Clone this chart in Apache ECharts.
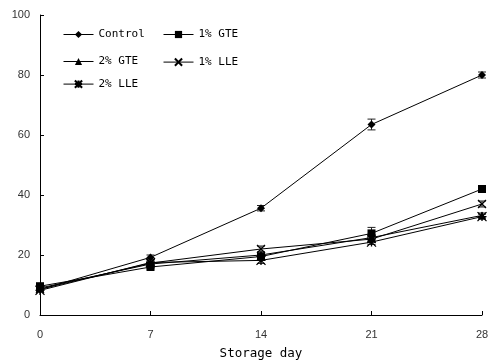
<!DOCTYPE html>
<html><head><meta charset="utf-8">
<script src="https://cdn.jsdelivr.net/npm/echarts@6/dist/echarts.min.js"></script>
<style>html,body{margin:0;padding:0;background:#fff}#c{width:491px;height:361px}</style>
</head><body><div id="c"></div>
<script>
var days = [0, 7, 14, 21, 28];
var seriesNames = ['Control', '1% GTE', '2% GTE', '1% LLE', '2% LLE'];
var control = [8.5, 19.2, 35.6, 63.5, 80.0];
var gte1 = [9.6, 16.0, 19.5, 27.2, 42.0];
var gte2 = [9.0, 17.0, 20.0, 25.8, 33.2];
var lle1 = [8.6, 17.3, 22.0, 25.3, 37.0];
var lle2 = [8.2, 17.5, 18.2, 24.3, 32.8];
var controlErr = [0.5, 0.8, 0.9, 1.8, 1.0];
var gte1Err = [0.6, 0.6, 1.0, 2.0, 0.8];
var gte2Err = [0.5, 0.5, 1.0, 1.0, 0.8];
var lle1Err = [0.5, 0.5, 1.0, 0.8, 1.0];
var lle2Err = [0.5, 0.5, 1.0, 0.8, 0.8];
var yTicks = [0, 20, 40, 60, 80, 100];

var values = [control, gte1, gte2, lle1, lle2];
var errs = [controlErr, gte1Err, gte2Err, lle1Err, lle2Err];
var symbols = ['diamond', 'rect', 'triangle',
  'path://M0,0L10,10M10,0L0,10',
  'path://M0,0L10,10M10,0L0,10M5,0L5,10M0,5L10,5'];
var sizes = [8, 8, 8, 8, 9];

var series = [];
var errData = [];
values.forEach(function (vals, i) {
  series.push({
    name: seriesNames[i], type: 'line',
    data: days.map(function (d, j) { return [d, vals[j]]; }),
    symbol: symbols[i], symbolSize: sizes[i], showAllSymbol: true,
    lineStyle: { color: '#000', width: 1 },
    itemStyle: { color: i >= 3 ? 'none' : '#000', borderColor: '#000', borderWidth: i >= 3 ? 1.3 : 0 },
    emphasis: { disabled: true }, animation: false, z: 3
  });
  days.forEach(function (d, j) { errData.push([d, vals[j], errs[i][j]]); });
});
series.push({
  type: 'custom', animation: false, z: 2,
  renderItem: function (params, api) {
    var x = api.value(0), v = api.value(1), e = api.value(2);
    var p1 = api.coord([x, v + e]), p2 = api.coord([x, v - e]);
    var w = 4, st = { stroke: '#222', lineWidth: 1 };
    return { type: 'group', children: [
      { type: 'line', shape: { x1: p1[0], y1: p1[1], x2: p2[0], y2: p2[1] }, style: st },
      { type: 'line', shape: { x1: p1[0] - w, y1: p1[1], x2: p1[0] + w, y2: p1[1] }, style: st },
      { type: 'line', shape: { x1: p2[0] - w, y1: p2[1], x2: p2[0] + w, y2: p2[1] }, style: st }
    ] };
  },
  encode: { x: 0, y: 1 },
  data: errData
});

var legPos = [[63, 29], [163, 29], [63, 56], [163, 56], [63, 78]];
var legends = seriesNames.map(function (n, i) {
  return {
    data: [n], left: legPos[i][0], top: legPos[i][1], orient: 'horizontal', padding: 0,
    itemWidth: 30, itemHeight: 9, itemGap: 0, selectedMode: false,
    lineStyle: { width: 1, color: '#000' },
    textStyle: { fontFamily: 'DejaVu Sans Mono', fontSize: 11, color: '#000' }
  };
});

var chart = echarts.init(document.getElementById('c'), null, { renderer: 'canvas' });
chart.setOption({
  backgroundColor: '#fff',
  animation: false,
  legend: legends,
  grid: { left: 40, right: 9, top: 15, bottom: 46, containLabel: false, outerBoundsMode: 'none' },
  xAxis: {
    type: 'value', min: 0, max: 28, interval: 7,
    name: 'Storage day', nameLocation: 'middle', nameGap: 32,
    nameTextStyle: { fontFamily: 'DejaVu Sans Mono', fontSize: 12.5, color: '#000' },
    axisLine: { lineStyle: { color: '#000', width: 1 } },
    axisTick: { inside: true, length: 4, lineStyle: { color: '#000' } },
    axisLabel: { fontFamily: 'Liberation Sans', fontSize: 11, color: '#333', margin: 14 },
    splitLine: { show: false }
  },
  yAxis: {
    type: 'value', min: yTicks[0], max: yTicks[yTicks.length - 1], interval: 20,
    axisLine: { show: true, lineStyle: { color: '#000', width: 1 } },
    axisTick: { show: true, inside: true, length: 4, lineStyle: { color: '#000' } },
    axisLabel: { fontFamily: 'Liberation Sans', fontSize: 11, color: '#333', margin: 10 },
    splitLine: { show: false }
  },
  series: series
});
</script></body></html>
